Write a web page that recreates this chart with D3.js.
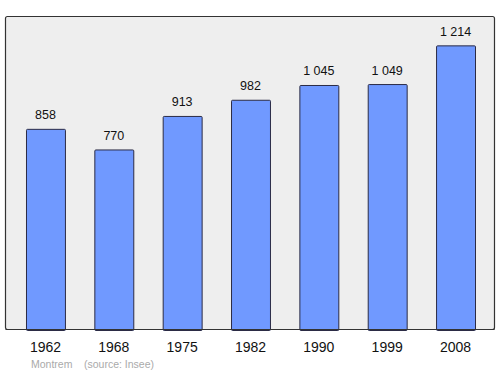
<!DOCTYPE html>
<html>
<head>
<meta charset="utf-8">
<script src="https://cdn.jsdelivr.net/npm/d3@7"></script>
<style>
  body { margin: 0; background: #fff; }
  text { font-family: "Liberation Sans", Arial, sans-serif; }
</style>
</head>
<body>
<div id="chart"></div>
<script>
// Population by census year
var years = ['1962', '1968', '1975', '1982', '1990', '1999', '2008']
var population = [858, 770, 913, 982, 1045, 1049, 1214]
var valueLabels = ['858', '770', '913', '982', '1 045', '1 049', '1 214']

var width = 500, height = 374
var panel = { left: 5.5, top: 16.5, right: 494.5, bottom: 329.5 }

var svg = d3.select('#chart')
  .append('svg')
    .attr('width', width)
    .attr('height', height)

// background panel
svg.append('rect')
  .attr('x', panel.left)
  .attr('y', panel.top)
  .attr('width', panel.right - panel.left)
  .attr('height', panel.bottom - panel.top)
  .attr('rx', 2)
  .attr('fill', '#eeeeee')
  .attr('stroke', '#333')
  .attr('stroke-width', 1.2)

var x = d3.scaleBand()
  .domain(years)
  .range([11.3, 489.7])
  .paddingInner(0.43)
  .paddingOuter(0.215)

var y = d3.scaleLinear()
  .domain([0, 1335])
  .range([330, 17])

var data = years.map((d, i) => ({ year: d, value: population[i], label: valueLabels[i] }))

svg.selectAll('rect.bar')
  .data(data)
  .enter()
  .append('rect')
    .attr('class', 'bar')
    .attr('x', (d) => x(d.year) + 0.5)
    .attr('y', (d) => y(d.value) + 0.5)
    .attr('width', x.bandwidth())
    .attr('height', (d) => y(0) - y(d.value))
    .attr('rx', 1)
    .attr('fill', '#7099ff')
    .attr('stroke', '#2b2b45')
    .attr('stroke-width', 1)

svg.selectAll('text.value')
  .data(data)
  .enter()
  .append('text')
    .attr('class', 'value')
    .attr('x', (d) => x(d.year) + x.bandwidth() / 2)
    .attr('y', (d) => y(d.value) - 9.5)
    .attr('text-anchor', 'middle')
    .attr('font-size', 12.5)
    .attr('fill', '#111')
    .text((d) => d.label)

// redraw the bottom edge on top of bars
svg.append('line')
  .attr('x1', panel.left)
  .attr('x2', panel.right)
  .attr('y1', panel.bottom)
  .attr('y2', panel.bottom)
  .attr('stroke', '#333')
  .attr('stroke-width', 1.2)

svg.selectAll('text.year')
  .data(years)
  .enter()
  .append('text')
    .attr('class', 'year')
    .attr('x', (d) => x(d) + x.bandwidth() / 2)
    .attr('y', 352)
    .attr('text-anchor', 'middle')
    .attr('font-size', 14)
    .attr('fill', '#111')
    .text((d) => d)

svg.append('text')
  .attr('x', 31)
  .attr('y', 368)
  .attr('font-size', 10.5)
  .attr('fill', '#aaa')
  .text('Montrem')

svg.append('text')
  .attr('x', 84)
  .attr('y', 368)
  .attr('font-size', 10.5)
  .attr('fill', '#aaa')
  .text('(source: Insee)')
</script>
</body>
</html>
